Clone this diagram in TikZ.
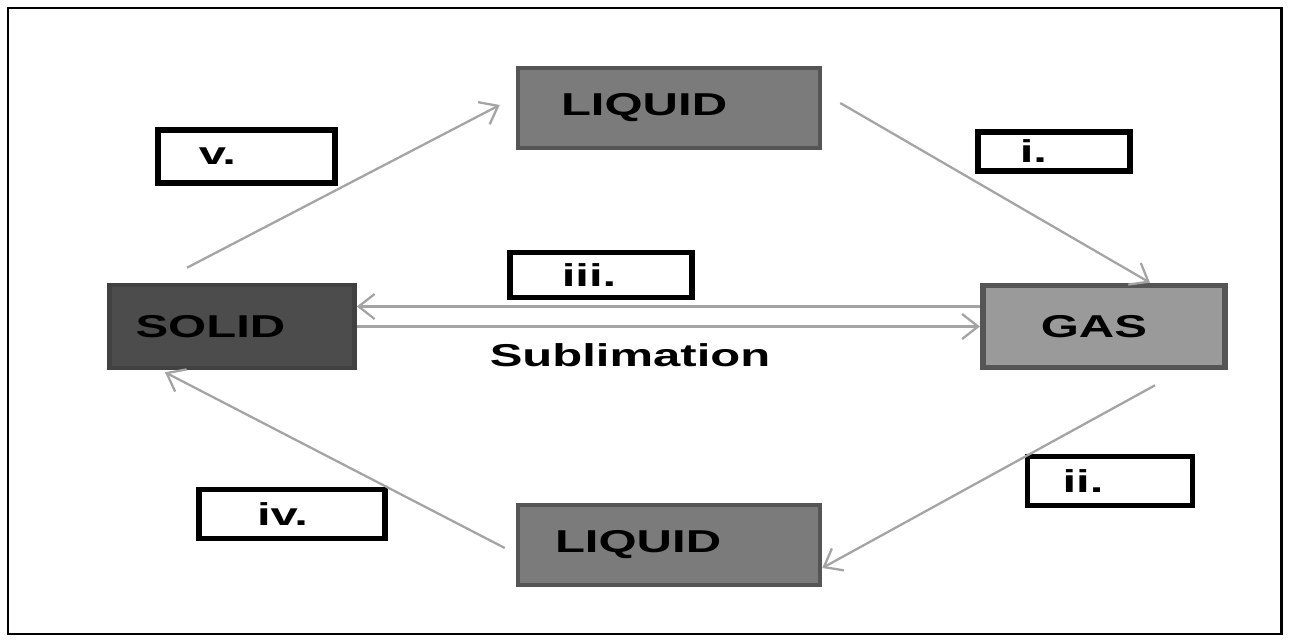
\documentclass[tikz,border=0pt]{standalone}
\usepackage{fontspec}
\setmainfont{Liberation Sans}
\newfontfamily\widesans[FakeStretch=1.55]{Liberation Sans}
\usetikzlibrary{arrows.meta}
\definecolor{solidfill}{HTML}{4C4C4C}
\definecolor{liqfill}{HTML}{7B7B7B}
\definecolor{gasfill}{HTML}{9A9A9A}
\definecolor{rim}{HTML}{555555}
\definecolor{flowgray}{HTML}{A4A4A4}
\tikzset{
  phase/.style={draw=rim, line width=2.6pt, align=left, minimum height=1.6cm,
    font=\widesans\fontsize{18}{20}\selectfont\bfseries},
  lbl/.style={draw=black, fill=white, line width=3.3pt, inner ysep=0pt, align=left,
    font=\widesans\fontsize{18}{20}\selectfont\bfseries},
  flow/.style={draw=flowgray, line width=1.3pt, -{Straight Barb[length=0.32cm,width=0.5cm]}},
}
\begin{document}
\begin{tikzpicture}[x=0.02cm,y=-0.02cm]
\useasboundingbox (0,0) rectangle (1289,642);
\draw[line width=1.7pt] (8,8) rectangle (1281,634);
\node[phase, fill=liqfill, inner xsep=0.86cm, text width=4.32cm] (liq0) at (669,108){LIQUID};
\node[phase, fill=solidfill, draw=solidfill!85!black, minimum height=1.66cm, inner xsep=0.52cm, text width=3.86cm] (sol) at (232,326.5){SOLID};
\node[phase, fill=gasfill, line width=3.2pt, minimum height=1.64cm, inner xsep=1.16cm, text width=2.53cm] (gas) at (1104,326.5){GAS};
\node[phase, fill=liqfill, inner xsep=0.74cm, text width=4.56cm] (liq1) at (669,545){LIQUID};
\node[lbl, minimum height=1.05cm, inner xsep=0.82cm, text width=1.91cm] (lab5) at (246.5,156.5){v.};
\node[lbl, minimum height=0.77cm, inner xsep=0.84cm, text width=1.37cm] (lab1) at (1054,151.5){i.};
\node[lbl, minimum height=0.9cm, inner xsep=1.04cm, text width=1.57cm] (lab3) at (601,275){iii.};
\node[lbl, minimum height=0.98cm, inner xsep=0.7cm, text width=1.9cm] (lab2) at (1110,481){ii.};
\node[lbl, minimum height=0.98cm, inner xsep=1.16cm, text width=1.4cm] (lab4) at (292,514){iv.};
\node[font=\widesans\fontsize{18}{20}\selectfont\bfseries] (subl) at (630,355){Sublimation};
\draw[flow]([xshift=-0.9cm,yshift=0.3cm]sol.north) -- ([xshift=-0.32cm,yshift=0.06cm]liq0.west);
\draw[flow]([xshift=0.36cm,yshift=0.1cm]liq0.east) -- ([xshift=0.92cm]gas.north);
\draw[flow]([yshift=0.4cm]gas.west) -- ([yshift=0.4cm]sol.east);
\draw[flow](sol.east) -- (gas.west);
\draw[flow]([xshift=1.02cm,yshift=-0.3cm]gas.south) -- ([yshift=-0.46cm]liq1.east);
\draw[flow]([xshift=-0.22cm,yshift=-0.06cm]liq1.west) -- ([xshift=-1.34cm,yshift=-0.04cm]sol.south);
\end{tikzpicture}
\end{document}
